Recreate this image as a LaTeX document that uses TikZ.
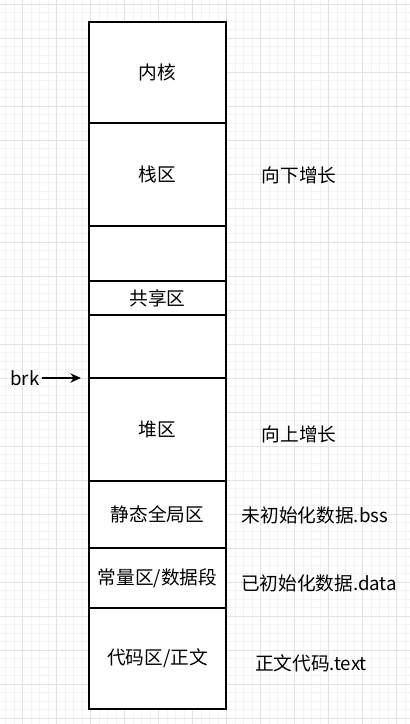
\documentclass[tikz,border=0pt]{standalone}
\usepackage{fontspec}
\setmainfont{Noto Sans CJK SC}
\usetikzlibrary{arrows.meta,positioning,calc}
\definecolor{ink}{HTML}{000000}
\definecolor{gridmin}{HTML}{F3F3F3}
\definecolor{gridmaj}{HTML}{E2E2E2}
\tikzset{
  segbox/.style={draw=ink,line width=1.5pt,fill=white,inner sep=0pt,
                 outer sep=0pt,minimum width=102.75pt,text=ink},
  note/.style={text=ink,inner sep=0pt}
}
\begin{document}
\begin{tikzpicture}[x=0.75pt,y=-0.75pt,font=\fontsize{14}{16}\selectfont]
  \useasboundingbox (0,0) rectangle (410,724);

  % background grid
  \foreach \gx in {5.7,14.2,...,410}{\draw[gridmin,line width=0.75pt] (\gx,0) -- (\gx,724);}
  \foreach \gy in {4.3,12.8,...,724}{\draw[gridmin,line width=0.75pt] (0,\gy) -- (410,\gy);}
  \foreach \gx in {22.7,56.7,...,410}{\draw[gridmaj,line width=0.75pt] (\gx,0) -- (\gx,724);}
  \foreach \gy in {4.3,38.3,...,724}{\draw[gridmaj,line width=0.75pt] (0,\gy) -- (410,\gy);}

  % memory segments
  \foreach \nm/\ya/\yb/\lb in {kern/22/123/内核, stack/123/226/栈区,
      gapa/226/281/{}, share/281/315/共享区, gapb/315/378/{},
      heap/378/481/堆区, bss/481/548/静态全局区,
      data/548/608/{常量区/数据段}, text/608/709/{代码区/正文}}{%
    \pgfmathsetmacro{\hh}{(\yb-\ya)*0.75}
    \node[segbox,minimum height=\hh pt] (\nm) at (157.5,{(\ya+\yb)/2}) {\lb};}

  % side notes
  \node[note] (down) at (299,175) {向下增长};
  \node[note] (up)   at (299,434) {向上增长};
  \node[note] (nbss) at (315,515) {未初始化数据.bss};
  \node[note] (ndat) at (319,583) {已初始化数据.data};
  \node[note] (ntxt) at (311,663) {正文代码.text};

  % brk pointer
  \node[note] (brk) at (25,378) {brk};
  \coordinate (brkend) at (81,378);
  \draw[-{Stealth[length=8pt,width=7pt]},ink,line width=1.1pt]
       ([xshift=2pt]brk.east) -- (brkend);
\end{tikzpicture}
\end{document}
